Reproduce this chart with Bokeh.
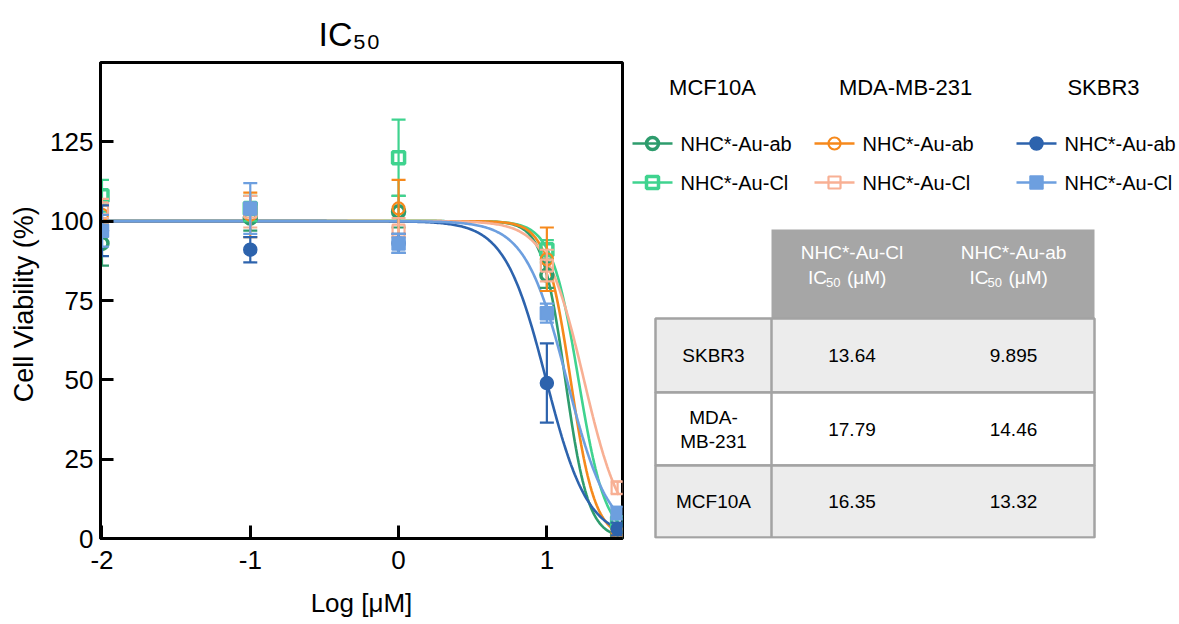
import numpy as np
from bokeh.plotting import figure
from bokeh.models import Range1d, FixedTicker, ColumnDataSource
from bokeh.layouts import row
from bokeh.embed import file_html
from bokeh.resources import INLINE
from bokeh.core.properties import value

FONT = "Liberation Sans"

# ---------------- data ----------------
log_conc = [-2.0, -1.0, 0.0, 1.0, 1.477]

series_names = ["MCF10A NHC*-Au-ab", "MCF10A NHC*-Au-Cl",
                "MDA-MB-231 NHC*-Au-ab", "MDA-MB-231 NHC*-Au-Cl",
                "SKBR3 NHC*-Au-ab", "SKBR3 NHC*-Au-Cl"]

mcf_ab = [93, 101, 103, 83, 1]
mcf_ab_err = [7, 4, 5, 4, 1]
mcf_cl = [108, 104, 120, 91, 5]
mcf_cl_err = [5, 4, 12, 3, 2]
mda_ab = [102, 102, 104, 88, 2]
mda_ab_err = [3, 7, 9, 10, 1]
mda_cl = [104, 103, 97, 86, 16]
mda_cl_err = [3, 5, 4, 5, 2]
skb_ab = [97, 91, 93, 49, 3]
skb_ab_err = [8, 4, 3, 12.5, 2]
skb_cl = [97, 104, 93, 71, 8]
skb_cl_err = [5, 8, 3, 3, 2]

# fitted IC50 (uM) and hill slopes of the dose-response fits
ic50 = [13.32, 16.35, 14.46, 17.79, 9.895, 13.64]
hill = [5.6, 4.8, 5.3, 3.4, 3.1, 3.1]

# table
table_rows = ["SKBR3", "MDA-\nMB-231", "MCF10A"]
table_cl = ["13.64", "17.79", "16.35"]
table_ab = ["9.895", "14.46", "13.32"]
table_headers = ["NHC*-Au-Cl", "NHC*-Au-ab"]

legend_groups = ["MCF10A", "MDA-MB-231", "SKBR3"]
legend_labels = ["NHC*-Au-ab", "NHC*-Au-Cl"]

x_ticks = [-2, -1, 0, 1]
x_tick_labels = ["-2", "-1", "0", "1"]
y_ticks = [0, 25, 50, 75, 100, 125]

values = [mcf_ab, mcf_cl, mda_ab, mda_cl, skb_ab, skb_cl]
errors = [mcf_ab_err, mcf_cl_err, mda_ab_err, mda_cl_err, skb_ab_err, skb_cl_err]

# styles
colors = ["#2e9c6d", "#3fd38f", "#f6891c", "#f8b094", "#2d63ad", "#6d9fdf"]
markers = ["circle", "square", "circle", "square", "circle", "square"]
filled = [False, False, False, False, True, True]
mlw = [3.5, 3.5, 2.2, 2.2, 1.5, 1.5]

# ---------------- main plot ----------------
p = figure(width=630, height=624, x_range=Range1d(-2.01, 1.51), y_range=Range1d(0, 150),
           output_backend="svg", toolbar_location=None,
           min_border_left=100, min_border_right=8, min_border_top=62, min_border_bottom=86)
p.title.text = "IC₅₀"
p.title.align = "left"
p.title.text_font = FONT
p.title.text_font_size = "34px"
p.title.text_font_style = "normal"
p.title.text_color = "black"
p.title.offset = 218
p.title.standoff = 20

p.xgrid.visible = False
p.ygrid.visible = False
p.outline_line_color = "black"
p.outline_line_width = 3
p.outline_line_alpha = 1

for ax in (p.xaxis[0], p.yaxis[0]):
    ax.axis_line_width = 3
    ax.axis_line_color = "black"
    ax.major_tick_line_width = 3
    ax.major_tick_in = 13
    ax.major_tick_out = 0
    ax.minor_tick_line_color = None
    ax.major_label_text_font = FONT
    ax.major_label_text_font_size = "26px"
    ax.major_label_text_color = "black"
    ax.axis_label_text_font = FONT
    ax.axis_label_text_font_style = "normal"
    ax.axis_label_text_font_size = "26px"
    ax.axis_label_text_color = "black"

p.yaxis.axis_label_text_font_size = "27px"
p.xaxis.ticker = FixedTicker(ticks=x_ticks)
p.xaxis.major_label_overrides = {t: s for t, s in zip(x_ticks, x_tick_labels)}
p.yaxis.ticker = FixedTicker(ticks=y_ticks)
p.xaxis.axis_label = "Log [μM]"
p.yaxis.axis_label = "Cell Viability  (%)"
p.xaxis.major_label_standoff = 12
p.yaxis.major_label_standoff = 7
p.xaxis.axis_label_standoff = 16
p.yaxis.axis_label_standoff = 8

xs = np.linspace(-2.0, 1.485, 400)
for i in range(6):
    lx50 = np.log10(ic50[i])
    ys = 100.0 / (1.0 + 10 ** (hill[i] * (xs - lx50)))
    p.line(xs, ys, line_color=colors[i], line_width=2.6)

for i in range(6):
    v = np.array(values[i], dtype=float)
    e = np.array(errors[i], dtype=float)
    x = np.array(log_conc)
    src = ColumnDataSource(dict(x=x, y=v, lo=v - e, hi=v + e))
    p.segment(x0="x", y0="lo", x1="x", y1="hi", source=src, line_color=colors[i], line_width=2.2)
    p.scatter(x="x", y="hi", source=src, marker="dash", size=14, line_color=colors[i], line_width=2.2)
    p.scatter(x="x", y="lo", source=src, marker="dash", size=14, line_color=colors[i], line_width=2.2)
    if filled[i]:
        p.scatter(x="x", y="y", source=src, marker=markers[i], size=13,
                  fill_color=colors[i], line_color=colors[i], line_width=mlw[i])
    else:
        p.scatter(x="x", y="y", source=src, marker=markers[i], size=12,
                  fill_alpha=0, line_color=colors[i], line_width=mlw[i])

# ---------------- legend + table panel ----------------
# its frame is aligned with the main plot frame (canvas y 62..538), so the
# y range below is expressed in canvas pixels
q = figure(width=549, height=624, x_range=Range1d(0, 549), y_range=Range1d(538, 62),
           output_backend="svg", toolbar_location=None, min_border=0)
q.axis.visible = False
q.xgrid.visible = False
q.ygrid.visible = False
q.outline_line_color = None

head_x = [82, 275, 473]
for gi, g in enumerate(legend_groups):
    q.text(x=[head_x[gi]], y=[87], text=[g], text_align="center", text_baseline="middle",
           text_font=value(FONT), text_font_size="22px", text_color="black")

col_x = [2, 184, 386]
row_y = [143, 182]
for gi in range(3):
    for li in range(2):
        i = gi * 2 + li
        x0 = col_x[gi]
        yy = row_y[li]
        q.line([x0, x0 + 40], [yy, yy], line_color=colors[i], line_width=2.6)
        if filled[i]:
            q.scatter([x0 + 20], [yy], marker=markers[i], size=13, fill_color=colors[i],
                      line_color=colors[i], line_width=mlw[i])
        else:
            q.scatter([x0 + 20], [yy], marker=markers[i], size=12, fill_alpha=0,
                      line_color=colors[i], line_width=mlw[i])
        q.text(x=[x0 + 48], y=[yy], text=[legend_labels[li]], text_align="left",
               text_baseline="middle", text_font=value(FONT), text_font_size="20px",
               text_color="black")

# table geometry
tl, c1, tr = 25, 141, 464
h_top, h_bot = 229, 318
row_edges = [318, 392, 465, 537]
row_fill = ["#ececec", "#ffffff", "#ececec"]
border = "#a3a3a3"

q.quad(left=[c1], right=[tr], top=[h_top], bottom=[h_bot], fill_color="#a6a6a6", line_color=None)
for r in range(3):
    q.quad(left=[tl], right=[tr], top=[row_edges[r]], bottom=[row_edges[r + 1]],
           fill_color=row_fill[r], line_color=border, line_width=2.5)
q.line([c1, c1], [row_edges[0], row_edges[-1]], line_color=border, line_width=2.5)

col_cx = [221.5, 383]
for ci in range(2):
    cx = col_cx[ci]
    q.text(x=[cx], y=[252], text=[table_headers[ci]], text_align="center", text_baseline="middle",
           text_font=value(FONT), text_font_size="19px", text_color="white")
    q.text(x=[cx - 44], y=[277], text=["IC"], text_align="left", text_baseline="middle",
           text_font=value(FONT), text_font_size="19px", text_color="white")
    q.text(x=[cx - 26], y=[282], text=["50"], text_align="left", text_baseline="middle",
           text_font=value(FONT), text_font_size="13px", text_color="white")
    q.text(x=[cx - 5], y=[277], text=["(μM)"], text_align="left", text_baseline="middle",
           text_font=value(FONT), text_font_size="19px", text_color="white")

for r in range(3):
    cy = (row_edges[r] + row_edges[r + 1]) / 2
    lines = table_rows[r].split("\n")
    if len(lines) == 1:
        q.text(x=[(tl + c1) / 2], y=[cy], text=[lines[0]], text_align="center", text_baseline="middle",
               text_font=value(FONT), text_font_size="19px", text_color="black")
    else:
        for k, t in enumerate(lines):
            q.text(x=[(tl + c1) / 2], y=[cy - 12 + 24 * k], text=[t], text_align="center",
                   text_baseline="middle", text_font=value(FONT), text_font_size="19px",
                   text_color="black")
    q.text(x=[col_cx[0]], y=[cy], text=[table_cl[r]], text_align="center", text_baseline="middle",
           text_font=value(FONT), text_font_size="19px", text_color="black")
    q.text(x=[col_cx[1]], y=[cy], text=[table_ab[r]], text_align="center", text_baseline="middle",
           text_font=value(FONT), text_font_size="19px", text_color="black")

layout = row(p, q)
open("out.html", "w").write(file_html(layout, INLINE))
